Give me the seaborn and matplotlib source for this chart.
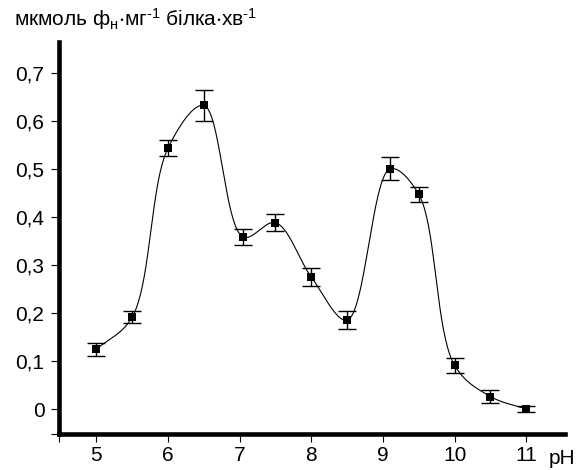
import numpy as np
import matplotlib
matplotlib.use("Agg")
import matplotlib.pyplot as plt
import seaborn as sns
import pandas as pd

# ---- data ----
ph = [5, 5.5, 6, 6.5, 7.05, 7.5, 8, 8.5, 9.1, 9.5, 10, 10.5, 11]
activity = [0.124, 0.191, 0.543, 0.632, 0.358, 0.388, 0.275, 0.185,
            0.500, 0.447, 0.091, 0.026, 0.0]
error = [0.013, 0.0125, 0.017, 0.032, 0.017, 0.017, 0.018, 0.019,
         0.024, 0.016, 0.015, 0.013, 0.007]
y_ticks = [0, 0.1, 0.2, 0.3, 0.4, 0.5, 0.6, 0.7]
y_tick_labels = ["0", "0,1", "0,2", "0,3", "0,4", "0,5", "0,6", "0,7"]
x_ticks = [5, 6, 7, 8, 9, 10, 11]
x_tick_labels = ["5", "6", "7", "8", "9", "10", "11"]
title = (r"$\mathregular{мкмоль\ ф_{н}{\cdot}мг^{\text{-1}}\ "
         r"білка{\cdot}хв^{\text{-1}}}$")
x_name = "pH"

sns.set_style("white")
plt.rcParams["font.family"] = ["Liberation Sans", "DejaVu Sans"]
plt.rcParams["mathtext.fontset"] = "custom"
plt.rcParams["mathtext.rm"] = "Liberation Sans"
plt.rcParams["mathtext.it"] = "Liberation Sans"
plt.rcParams["mathtext.default"] = "regular"


def smooth(xs, ys, sx=71.7, sy=480.4, n=40, alpha=0.5):
    """Smoothed line (centripetal Catmull-Rom) through the data points."""
    P = np.column_stack([np.asarray(xs) * sx, np.asarray(ys) * sy])
    P = np.vstack([2 * P[0] - P[1], P, 2 * P[-1] - P[-2]])
    out = []
    t = np.linspace(0, 1, n)[:, None]
    for i in range(1, len(P) - 2):
        p0, p1, p2, p3 = P[i - 1], P[i], P[i + 1], P[i + 2]
        d01 = np.linalg.norm(p1 - p0) ** alpha
        d12 = np.linalg.norm(p2 - p1) ** alpha
        d23 = np.linalg.norm(p3 - p2) ** alpha
        m1 = ((p1 - p0) / d01 - (p2 - p0) / (d01 + d12) + (p2 - p1) / d12) * d12
        m2 = ((p2 - p1) / d12 - (p3 - p1) / (d12 + d23) + (p3 - p2) / d23) * d12
        c1 = p1 + m1 / 3
        c2 = p2 - m2 / 3
        b = ((1 - t) ** 3) * p1 + 3 * ((1 - t) ** 2) * t * c1 + \
            3 * (1 - t) * t ** 2 * c2 + t ** 3 * p2
        out.append(b if i == 1 else b[1:])
    B = np.vstack(out)
    return B[:, 0] / sx, B[:, 1] / sy


df = pd.DataFrame({"pH": ph, "act": activity, "err": error})
sx, sy = smooth(ph, activity)
curve = pd.DataFrame({"pH": sx, "act": sy})

fig = plt.figure(figsize=(5.88, 4.70), dpi=100)
ax = fig.add_axes([0.1003, 0.0766, 0.8605, 0.834])

sns.lineplot(data=curve, x="pH", y="act", ax=ax, color="black",
             linewidth=0.8, sort=False, estimator=None)
ax.errorbar(df["pH"], df["act"], yerr=df["err"], fmt="none",
            ecolor="black", elinewidth=1.0, capsize=6.5, capthick=1.0)
sns.scatterplot(data=df, x="pH", y="act", ax=ax, marker="s", s=30,
                color="black", edgecolor="black", linewidth=0, zorder=5)

ax.set_xlim(4.48, 11.54)
ax.set_ylim(-0.052, 0.764)
ax.set_xticks([4.48] + x_ticks)
ax.set_xticklabels([""] + x_tick_labels)
ax.set_yticks([-0.052] + y_ticks)
ax.set_yticklabels([""] + y_tick_labels)
ax.set_xlabel("")
ax.set_ylabel("")

for s in ["top", "right"]:
    ax.spines[s].set_visible(False)
for s in ["left", "bottom"]:
    ax.spines[s].set_linewidth(3.3)
    ax.spines[s].set_color("black")

ax.tick_params(axis="both", direction="out", length=5.5, width=0.8,
               color="black", labelsize=15, labelcolor="black",
               left=True, bottom=True)
ax.tick_params(axis="y", pad=5)
ax.tick_params(axis="x", pad=3)

fig.text(14 / 588, 1 - 26 / 470, title, fontsize=15, ha="left",
         va="baseline", color="black")
fig.text(562 / 588, 1 - 464 / 470, x_name, fontsize=15, ha="center",
         va="baseline", color="black")

fig.savefig("out.png", dpi=100)
